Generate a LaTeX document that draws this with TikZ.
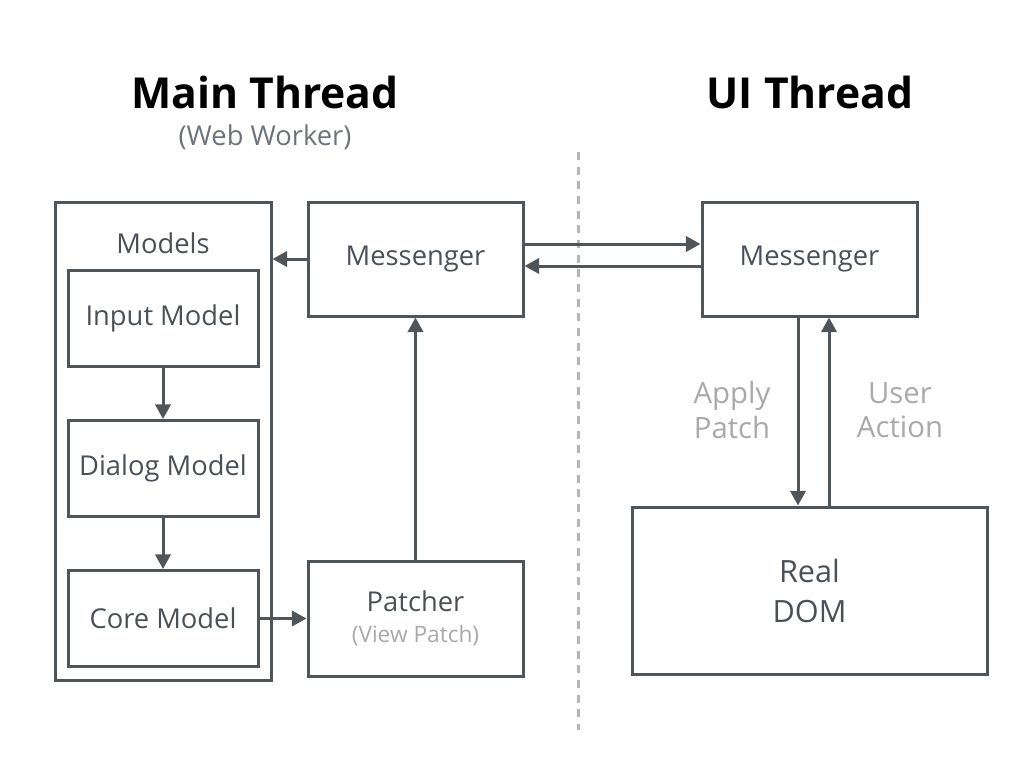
\documentclass[tikz,border=0pt]{standalone}
\usepackage{fontspec}
\setmainfont{Open Sans}
\usetikzlibrary{arrows.meta}
\definecolor{ln}{HTML}{50555A}
\definecolor{tx}{HTML}{4B5057}
\definecolor{lg}{HTML}{A9A9A9}
\definecolor{dl}{HTML}{B4B4B4}
\tikzset{
box/.style={draw=ln,line width=2.25pt,text=tx,font=\fontsize{20.5}{24}\selectfont,inner sep=0pt},
modelbox/.style={box,minimum width=142.5pt,minimum height=72pt},
thrbox/.style={box,minimum width=161.25pt,minimum height=85.5pt},
arr/.style={draw=ln,line width=2.25pt,-{Triangle[length=11pt,width=11.5pt]}},
note/.style={text=lg,font=\fontsize{22}{26}\selectfont,align=center}
}

\begin{document}
\begin{tikzpicture}[x=0.75pt,y=-0.75pt]
\useasboundingbox (0,0) rectangle (1024,768);
\node[font=\fontsize{32}{38}\selectfont\bfseries] (maintitle) at (265,92) {Main Thread};
\node[text=tx!80,font=\fontsize{20.5}{24}\selectfont] (worker) at (265,137) {(Web Worker)};
\node[font=\fontsize{32}{38}\selectfont\bfseries] (uititle) at (810,92) {UI Thread};
\draw[dl,line width=2.25pt,dash pattern=on 6pt off 5pt] (578,152) -- (578,730);
\node[box,minimum width=162pt,minimum height=358.5pt] (models) at (163,441) {};
\node[text=tx,font=\fontsize{20.5}{24}\selectfont] (modelstitle) at (163,243) {Models};
\node[modelbox] (input) at (163,318) {Input Model};
\node[modelbox] (dialog) at (163,468.5) {Dialog Model};
\node[modelbox] (core) at (163,618.5) {Core Model};
\node[thrbox] (msgmain) at (415.5,259) {Messenger};
\node[thrbox,minimum height=86.25pt,align=center] (patcher) at (415.5,618.5) {Patcher\\[-1pt]{\color{lg}\fontsize{17}{20}\selectfont(View Patch)}};
\node[thrbox] (msgui) at (809.5,259) {Messenger};
\node[box,minimum width=266.25pt,minimum height=125.25pt,align=center,font=\fontsize{23}{30}\selectfont] (dom) at (809.5,590.5) {Real\\DOM};
\draw[arr] (input) -- (dialog);
\draw[arr] (dialog) -- (core);
\draw[arr] (core) -- (patcher);
\draw[arr] (patcher) -- (msgmain);
\draw[arr] (msgmain.west) -- (msgmain.west -| models.east);
\draw[arr] (msgmain.east |- 0,244) -- (msgui.west |- 0,244);
\draw[arr] (msgui.west |- 0,266) -- (msgmain.east |- 0,266);
\draw[arr] (msgui.south -| 798,0) -- (dom.north -| 798,0);
\draw[arr] (dom.north -| 829,0) -- (msgui.south -| 829,0);
\node[note] (apply) at (732,410) {Apply\\Patch};
\node[note] (user) at (900,410) {User\\Action};
\end{tikzpicture}
\end{document}
